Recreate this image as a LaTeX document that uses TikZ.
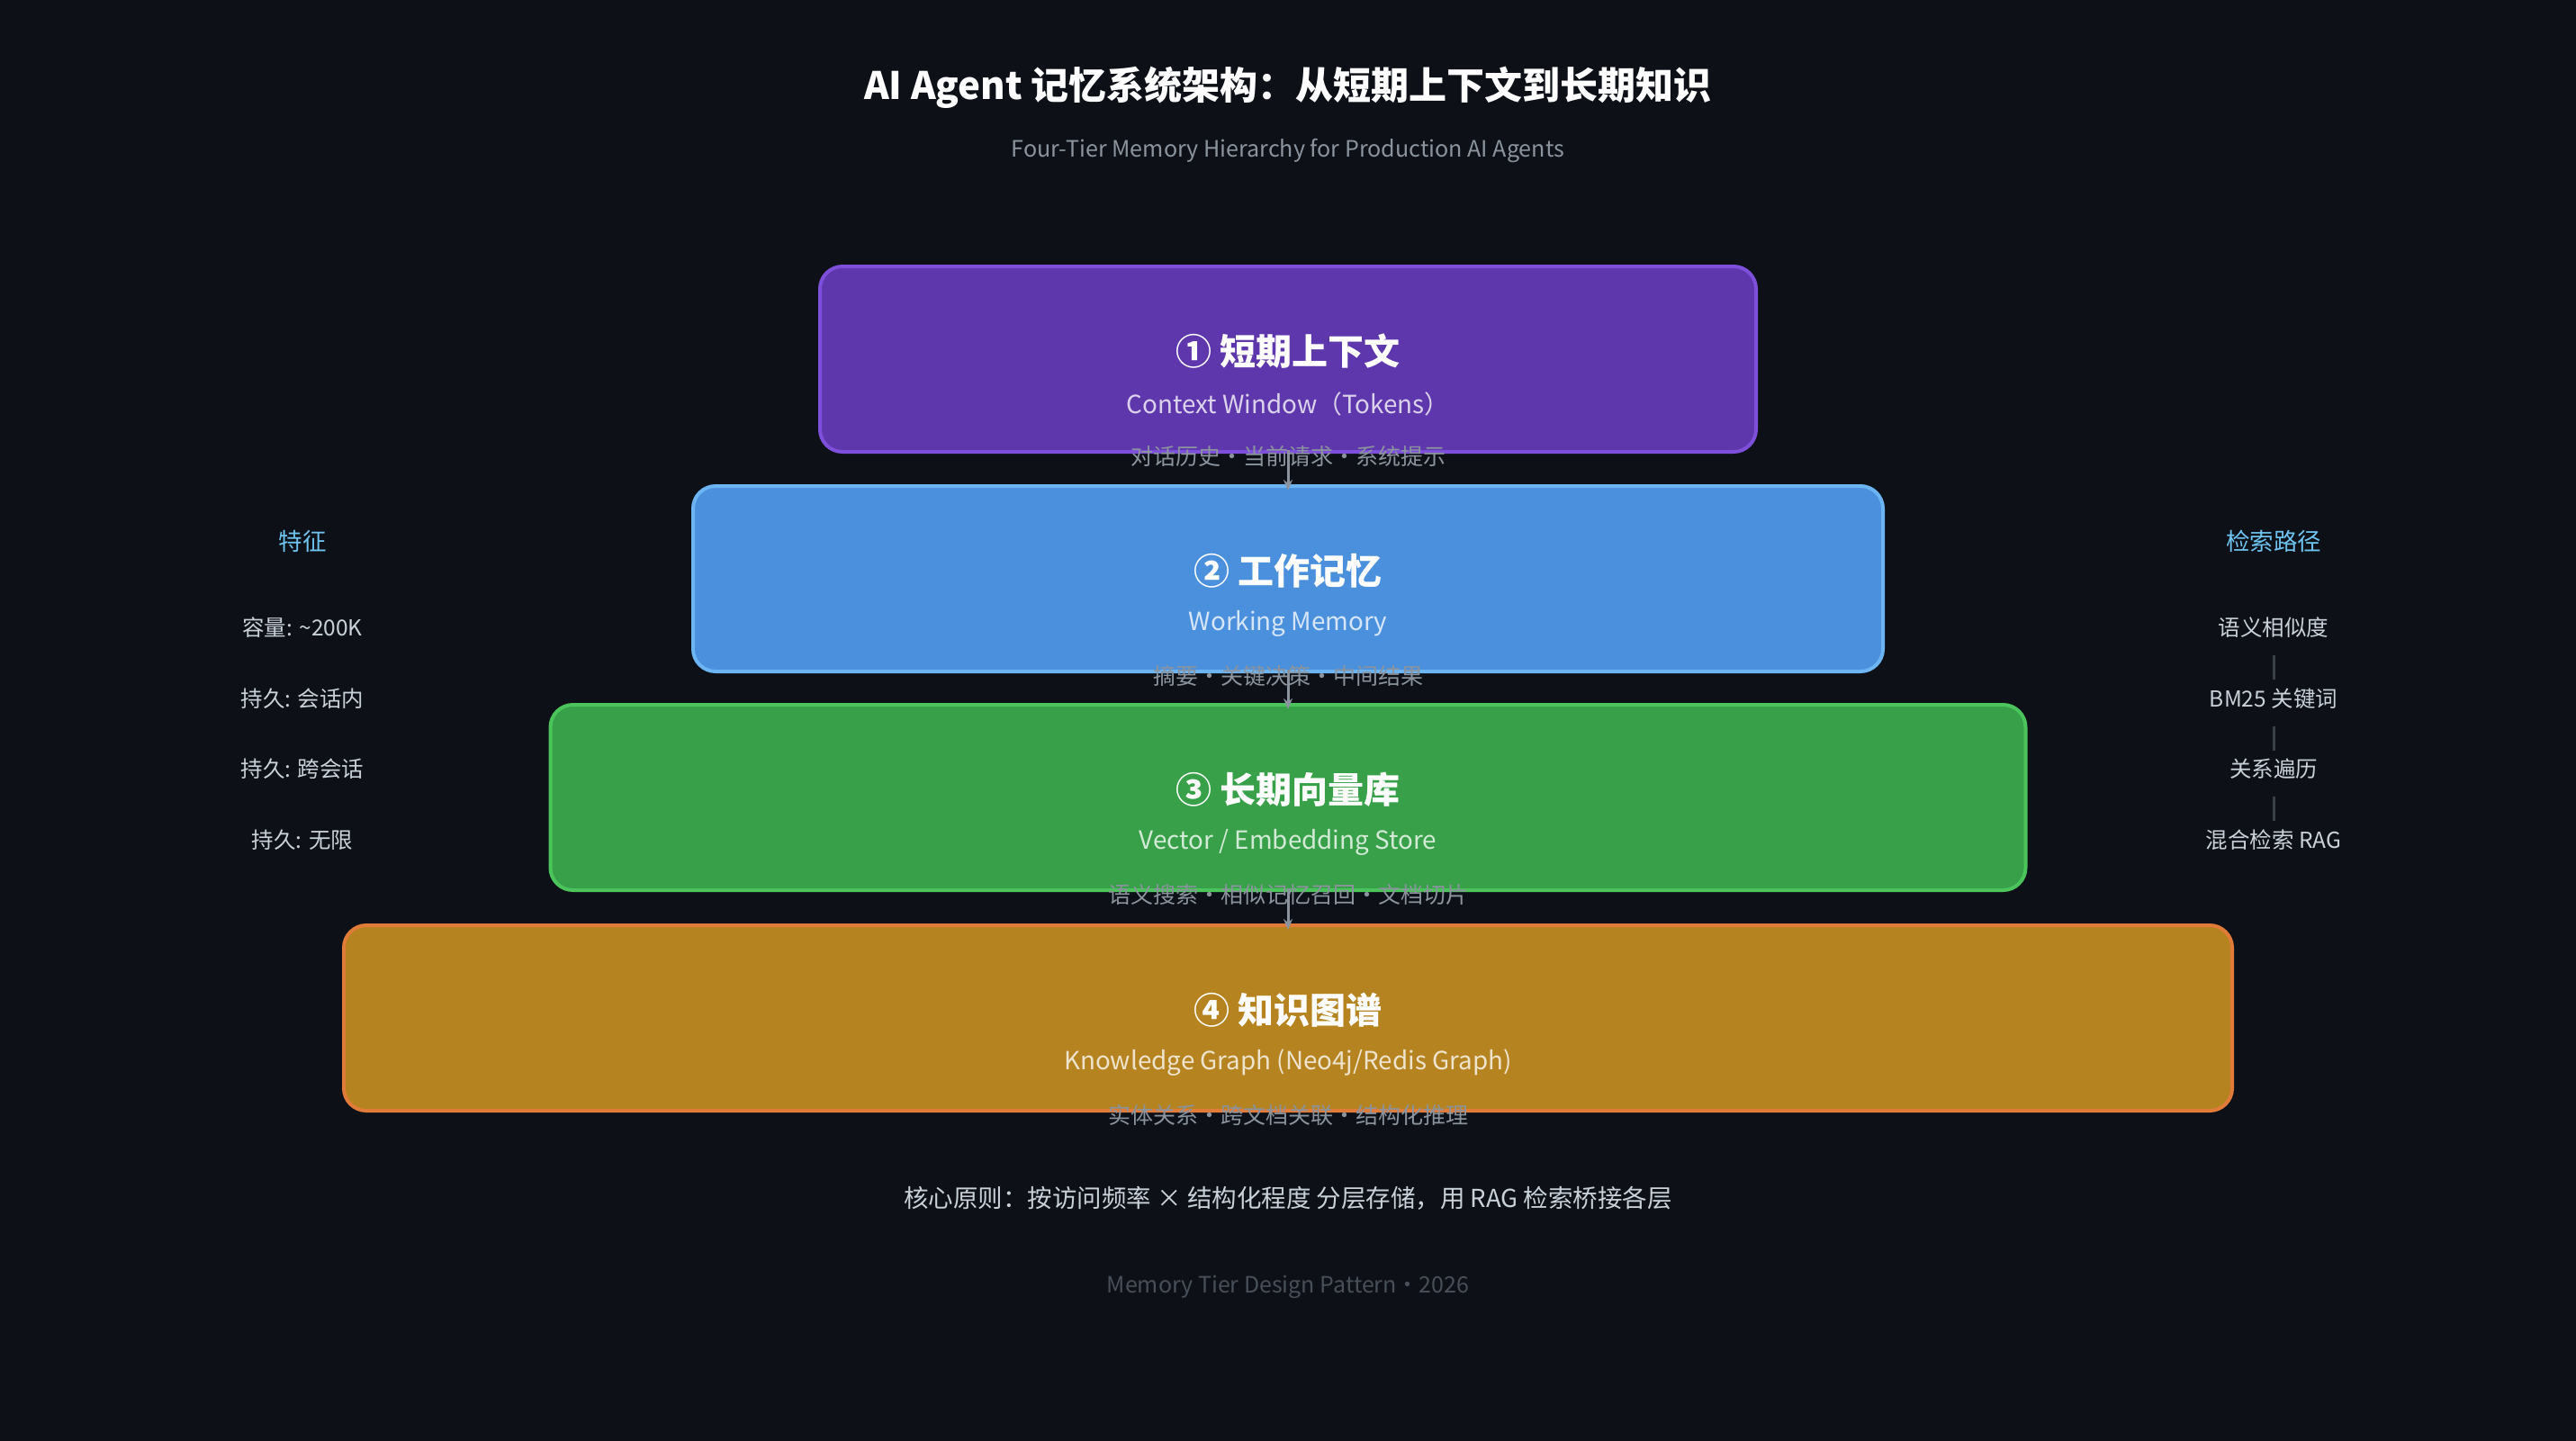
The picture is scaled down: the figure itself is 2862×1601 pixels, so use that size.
\documentclass[tikz,border=0pt]{standalone}
\usepackage{fontspec}
\setmainfont{Noto Sans CJK SC}
\usetikzlibrary{arrows.meta}

\definecolor{bgdark}{HTML}{0D1117}
\definecolor{textgray}{HTML}{8B949E}
\definecolor{textlight}{HTML}{C9D1D9}
\definecolor{headblue}{HTML}{6FC3F0}
\definecolor{sepgray}{HTML}{3A4048}
\definecolor{footgray}{HTML}{484F58}
\definecolor{purpleF}{HTML}{5E37AC}
\definecolor{purpleD}{HTML}{7D4FDA}
\definecolor{blueF}{HTML}{4A90DD}
\definecolor{blueD}{HTML}{6CB4F2}
\definecolor{greenF}{HTML}{37A048}
\definecolor{greenD}{HTML}{4CC45C}
\definecolor{goldF}{HTML}{B5831F}
\definecolor{goldD}{HTML}{E07B39}

\tikzset{
  tier/.style={line width=4pt, rounded corners=25pt, minimum height=206pt, inner sep=0pt},
  tiername/.style={text=white, font=\fontsize{40}{48}\selectfont\bfseries},
  tiersub/.style={text=white, text opacity=0.78, font=\fontsize{27.8}{34}\selectfont},
  tiernote/.style={text=textgray, font=\fontsize{25}{30}\selectfont},
  sidehead/.style={text=headblue, font=\fontsize{26.5}{32}\selectfont, inner sep=0pt},
  sideitem/.style={text=textlight, font=\fontsize{24.5}{30}\selectfont, inner sep=0pt},
  flow/.style={draw=textgray, line width=3pt, -{Stealth[length=12pt, width=10pt]}},
  sep/.style={draw=sepgray, line width=3pt},
}

\def\midx{1431}

\begin{document}
\begin{tikzpicture}[x=1pt,y=-1pt]
  \fill[bgdark] (0,0) rectangle (2862,1601);
  \useasboundingbox (0,0) rectangle (2862,1601);

  % title
  \node[text=white, font=\fontsize{42}{50}\selectfont\bfseries] (title) at (\midx,97)
    {AI Agent 记忆系统架构：从短期上下文到长期知识};
  \node[text=textgray, font=\fontsize{25.1}{31}\selectfont] (subtitle) at (\midx,167)
    {Four-Tier Memory Hierarchy for Production AI Agents};

  % the four tiers
  \foreach \i/\y/\w/\tone/\rim/\name/\eng/\notes in {
      1/399/1040/purpleF/purpleD/{① 短期上下文}/{Context Window（Tokens）}/{对话历史・当前请求・系统提示},
      2/643/1322/blueF/blueD/{② 工作记忆}/{Working Memory}/{摘要・关键决策・中间结果},
      3/886/1639/greenF/greenD/{③ 长期向量库}/{Vector / Embedding Store}/{语义搜索・相似记忆召回・文档切片},
      4/1131/2098/goldF/goldD/{④ 知识图谱}/{Knowledge Graph (Neo4j/Redis Graph)}/{实体关系・跨文档关联・结构化推理}
    } {
      \node[tier, fill=\tone, draw=\rim, minimum width=\w pt] (tier\i) at (\midx,\y) {};
      \node[tiername] (name\i) at (\midx,\y-9) {\name};
      \node[tiersub] (eng\i) at (\midx,\y+50) {\eng};
      \node[tiernote] (notes\i) at (\midx,\y+108) {\notes};
    };
  \foreach \i/\j in {1/2,2/3,3/4}
    \draw[flow] ([yshift=4pt]tier\i.south) -- ([yshift=-7pt]tier\j.north);

  % left column: traits
  \node[sidehead] (traits) at (336,601) {特征};
  \foreach \k/\y/\txt in {
      1/697/{容量: \textasciitilde200K},
      2/776/{持久: 会话内},
      3/854/{持久: 跨会话},
      4/933/{持久: 无限}
    } {
      \node[sideitem] (trait\k) at (336,\y) {\txt};
    };

  % right column: retrieval paths
  \node[sidehead] (paths) at (2526,601) {检索路径};
  \foreach \k/\y/\txt in {
      1/697/{语义相似度},
      2/776/{BM25 关键词},
      3/854/{关系遍历},
      4/933/{混合检索 RAG}
    } {
      \node[sideitem] (route\k) at (2526,\y) {\txt};
    };
  \foreach \k/\j in {1/2,2/3,3/4}
    \draw[sep, shorten <=19pt, shorten >=9pt] (route\k.south) -- (route\j.north);

  % bottom lines
  \node[text=textlight, font=\fontsize{27.5}{34}\selectfont] (rule) at (\midx,1331)
    {核心原则：按访问频率 × 结构化程度 分层存储，用 RAG 检索桥接各层};
  \node[text=footgray, font=\fontsize{25}{30}\selectfont] (footer) at (\midx,1430)
    {Memory Tier Design Pattern・2026};
\end{tikzpicture}
\end{document}
